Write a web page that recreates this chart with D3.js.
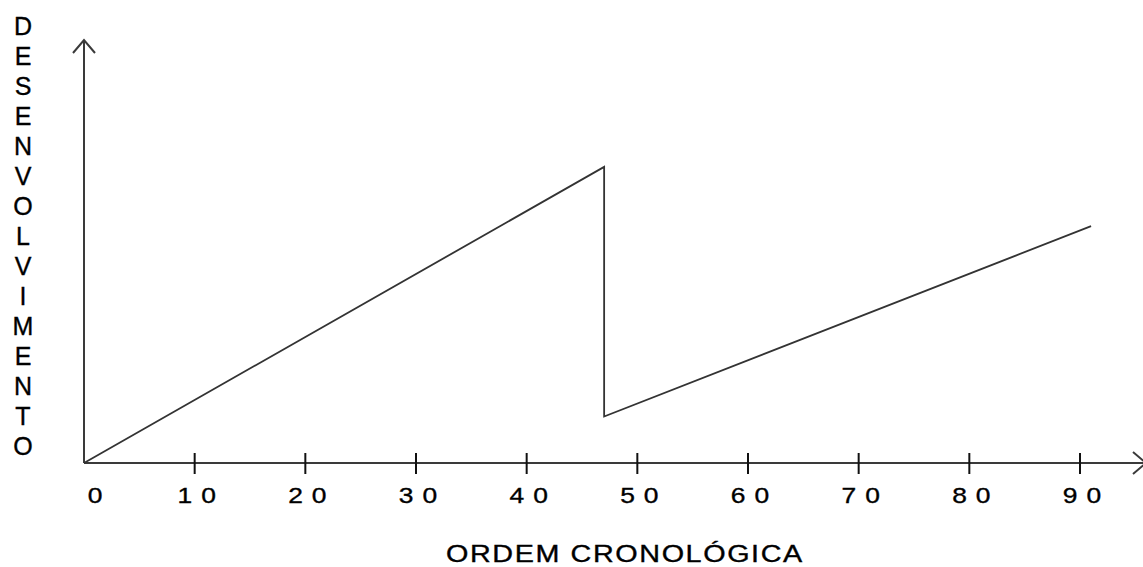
<!DOCTYPE html>
<html>
<head>
<meta charset="utf-8">
<script src="https://cdn.jsdelivr.net/npm/d3@7"></script>
<style>
  body { margin: 0; background: #fff; }
  text { font-family: "Liberation Sans", Arial, sans-serif; fill: #000; stroke: #000; stroke-width: 0.35; }
</style>
</head>
<body>
<script>
// data
var xValues = [0, 47, 47, 91];
var yValues = [0, 70, 11, 56];
var tickValues = [0, 10, 20, 30, 40, 50, 60, 70, 80, 90];
var yTitle = "DESENVOLVIMENTO";
var xTitle = "ORDEM CRONOLÓGICA";

var width = 1143, height = 567;

var svg = d3.select("body").append("svg")
    .attr("width", width)
    .attr("height", height);

var x = d3.scaleLinear().domain([0, 90]).range([84, 1080]);
var y = d3.scaleLinear().domain([0, 100]).range([463, 40]);

var axisColor = "#3a3a3a";

// x axis line + arrow
svg.append("line")
    .attr("x1", x(0)).attr("y1", y(0))
    .attr("x2", 1146).attr("y2", y(0))
    .attr("stroke", axisColor).attr("stroke-width", 2);
svg.append("path")
    .attr("d", "M" + (1146 - 13) + "," + (y(0) - 11) + "L1146," + y(0) + "L" + (1146 - 13) + "," + (y(0) + 11))
    .attr("fill", "none").attr("stroke", axisColor).attr("stroke-width", 2);

// y axis line + arrow
svg.append("line")
    .attr("x1", x(0)).attr("y1", y(0))
    .attr("x2", x(0)).attr("y2", y(100))
    .attr("stroke", axisColor).attr("stroke-width", 2);
svg.append("path")
    .attr("d", "M" + (x(0) - 11) + "," + (y(100) + 13) + "L" + x(0) + "," + y(100) + "L" + (x(0) + 11) + "," + (y(100) + 13))
    .attr("fill", "none").attr("stroke", axisColor).attr("stroke-width", 2);

// ticks
svg.selectAll(".tick").data(tickValues.filter(function(d) { return d > 0; }))
  .enter().append("line")
    .attr("class", "tick")
    .attr("x1", function(d) { return x(d); })
    .attr("x2", function(d) { return x(d); })
    .attr("y1", y(0) - 10)
    .attr("y2", y(0) + 11)
    .attr("stroke", "#111").attr("stroke-width", 2);

// tick labels, digits spread apart like the original
svg.selectAll(".tlabel").data(tickValues)
  .enter().append("text")
    .attr("class", "tlabel")
    .attr("transform", function(d) {
      var cx = d === 0 ? x(d) + 11 : x(d) + 2;
      return "translate(" + cx + ",503) scale(1.2,1)";
    })
    .attr("text-anchor", "middle")
    .style("font-size", "22px")
    .each(function(d) {
      if (d >= 10) {
        d3.select(this).attr("textLength", 32).attr("lengthAdjust", "spacing");
      }
    })
    .text(function(d) { return d; });

// data line
var line = d3.line()
    .x(function(d) { return x(d[0]); })
    .y(function(d) { return y(d[1]); });

svg.append("path")
    .datum(xValues.map(function(v, i) { return [v, yValues[i]]; }))
    .attr("d", line)
    .attr("fill", "none")
    .attr("stroke", "#333")
    .attr("stroke-width", 1.8)
    .attr("stroke-linejoin", "miter");

// y title, stacked letters
svg.selectAll(".ylab").data(yTitle.split(""))
  .enter().append("text")
    .attr("class", "ylab")
    .attr("x", 23)
    .attr("y", function(d, i) { return 35 + i * 30; })
    .attr("text-anchor", "middle")
    .style("font-size", "25px")
    .text(function(d) { return d; });

// x title
svg.append("text")
    .attr("transform", "translate(446,562) scale(1.25,1)")
    .attr("textLength", 285)
    .attr("lengthAdjust", "spacing")
    .style("font-size", "23px")
    .text(xTitle);
</script>
</body>
</html>
